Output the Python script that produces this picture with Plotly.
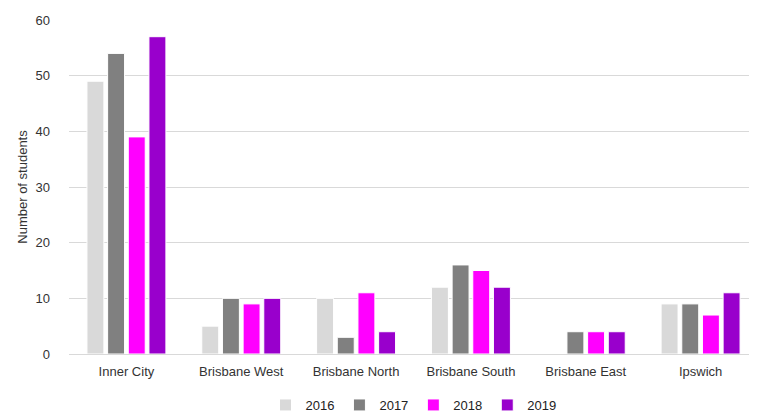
import plotly.graph_objects as go

regions = ["Inner City", "Brisbane West", "Brisbane North", "Brisbane South", "Brisbane East", "Ipswich"]
years = ["2016", "2017", "2018", "2019"]
values_2016 = [49, 5, 10, 12, 0, 9]
values_2017 = [54, 10, 3, 16, 4, 9]
values_2018 = [39, 9, 11, 15, 4, 7]
values_2019 = [57, 10, 4, 12, 4, 11]
colors = ["#D9D9D9", "#808080", "#FF00FF", "#9900CC"]

series = [values_2016, values_2017, values_2018, values_2019]

fig = go.Figure()
for name, vals, col in zip(years, series, colors):
    fig.add_trace(go.Bar(
        x=regions, y=vals, name=name,
        marker=dict(color=col, line=dict(color="white", width=1)),
    ))

fig.update_layout(
    width=757, height=412,
    margin=dict(l=61, r=7, t=12, b=66, autoexpand=False),
    paper_bgcolor="white", plot_bgcolor="white",
    barmode="group", bargap=0.28, bargroupgap=0.18,
    font=dict(family="Liberation Sans", size=13, color="#333333"),
    legend=dict(orientation="h", x=0.5, xanchor="center", yref="container", y=0.0, yanchor="bottom",
                font=dict(size=13, color="#222222"), traceorder="normal", itemwidth=30),
    showlegend=True,
)
fig.update_yaxes(
    range=[0, 60], dtick=10, showgrid=True, gridcolor="#D9D9D9", gridwidth=1,
    zeroline=True, zerolinecolor="#D9D9D9", zerolinewidth=1,
    title=dict(text="Number of students", font=dict(size=13, color="#333333"), standoff=4),
    tickfont=dict(size=13, color="#333333"), ticks="", ticklabelstandoff=18,
)
fig.update_xaxes(
    showline=False, ticks="", tickfont=dict(size=13, color="#333333"), ticklabelstandoff=8,
)
fig.write_html("out.html")
